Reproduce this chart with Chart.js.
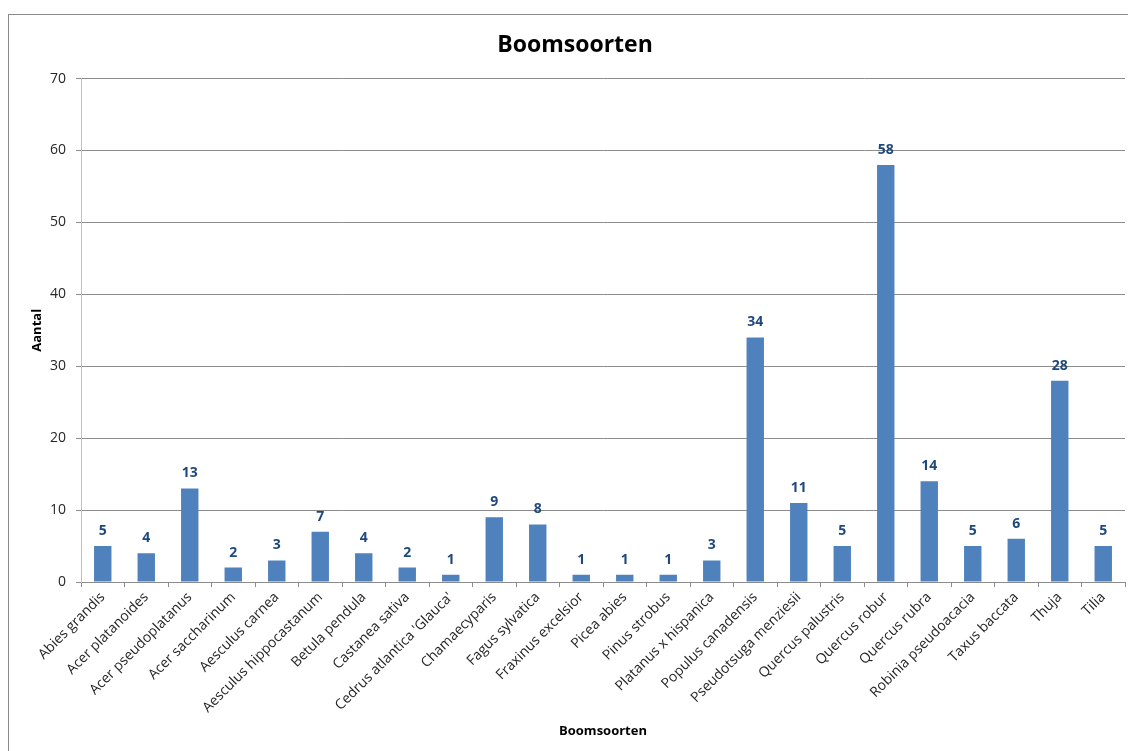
<!DOCTYPE html>
<html><head><meta charset="utf-8">
<script src="https://cdn.jsdelivr.net/npm/chart.js@4.4.1/dist/chart.umd.min.js"></script>
<style>
html,body{margin:0;padding:0;background:#fff;overflow:hidden;width:1128px;height:751px;}
#frame{position:absolute;left:8px;top:14px;width:1140px;height:760px;border:1px solid #8a8a8a;box-sizing:border-box;}
#wrap{position:absolute;left:0;top:0;width:1128px;height:751px;}
</style></head>
<body>
<div id="frame"></div>
<div id="wrap"><canvas id="c" width="1128" height="751"></canvas></div>
<script>
const categories = ["Abies grandis","Acer platanoides","Acer pseudoplatanus","Acer saccharinum","Aesculus carnea","Aesculus hippocastanum","Betula pendula","Castanea sativa","Cedrus atlantica 'Glauca'","Chamaecyparis","Fagus sylvatica","Fraxinus excelsior","Picea abies","Pinus strobus","Platanus x hispanica","Populus canadensis","Pseudotsuga menziesii","Quercus palustris","Quercus robur","Quercus rubra","Robinia pseudoacacia","Taxus baccata","Thuja","Tilia"];
const counts = [5,4,13,2,3,7,4,2,1,9,8,1,1,1,3,34,11,5,58,14,5,6,28,5];
const chartTitle = "Boomsoorten";
const xTitle = "Boomsoorten";
const yTitle = "Aantal";
const yMin = 0, yMax = 70, yStep = 10;

const FONT = "'Open Sans', sans-serif";

const dataLabels = {
  id: 'dataLabels',
  afterLayout(chart) {
    // centre the chart title on the outer chart frame, as in the original
    const tb = chart.titleBlock;
    if (tb) { const c = 575; tb.left = 2 * c - tb.right; tb.width = tb.right - tb.left; }
  },
  afterDatasetsDraw(chart) {
    const ctx = chart.ctx;
    const meta = chart.getDatasetMeta(0);
    ctx.save();
    ctx.font = "bold 14px " + FONT;
    ctx.fillStyle = '#1F497D';
    ctx.textAlign = 'center';
    ctx.textBaseline = 'middle';
    meta.data.forEach((bar, i) => {
      ctx.fillText(String(chart.data.datasets[0].data[i]), bar.x, bar.y - 15);
    });
    ctx.restore();
  }
};

new Chart(document.getElementById('c'), {
  type: 'bar',
  data: {
    labels: categories,
    datasets: [{
      data: counts,
      backgroundColor: '#4F81BD',
      borderWidth: 0,
      categoryPercentage: 1.0,
      barPercentage: 0.4
    }]
  },
  plugins: [dataLabels],
  options: {
    responsive: false,
    animation: false,
    layout: { padding: { left: 0, right: 3, top: 0, bottom: 0 } },
    plugins: {
      legend: { display: false },
      tooltip: { enabled: false },
      title: {
        display: true,
        text: chartTitle,
        color: '#000',
        font: { family: FONT, size: 23, weight: 'bold' },
        padding: { top: 32, bottom: 19 }
      }
    },
    scales: {
      x: {
        afterFit(s) { s.height = 169; },
        grid: { offset: true, drawOnChartArea: false, drawTicks: true, tickLength: 5, color: '#8c8c8c' },
        border: { display: true, color: '#8c8c8c' },
        ticks: { autoSkip: false, maxRotation: 45, minRotation: 45, padding: 2, color: '#262626', font: { family: FONT, size: 14 } },
        title: { display: true, text: xTitle, color: '#000', font: { family: FONT, size: 13, weight: 'bold' }, padding: { top: 4, bottom: 12 } }
      },
      y: {
        min: yMin, max: yMax,
        afterFit(s) { s.width = 81; },
        grid: { color: '#8c8c8c', drawTicks: true, tickLength: 5 },
        border: { display: true, color: '#bfbfbf' },
        ticks: { stepSize: yStep, padding: 10, color: '#262626', font: { family: FONT, size: 14 } },
        title: { display: true, text: yTitle, color: '#000', font: { family: FONT, size: 13, weight: 'bold' }, padding: { top: 29, bottom: 0 } }
      }
    }
  }
});
</script>
</body></html>
